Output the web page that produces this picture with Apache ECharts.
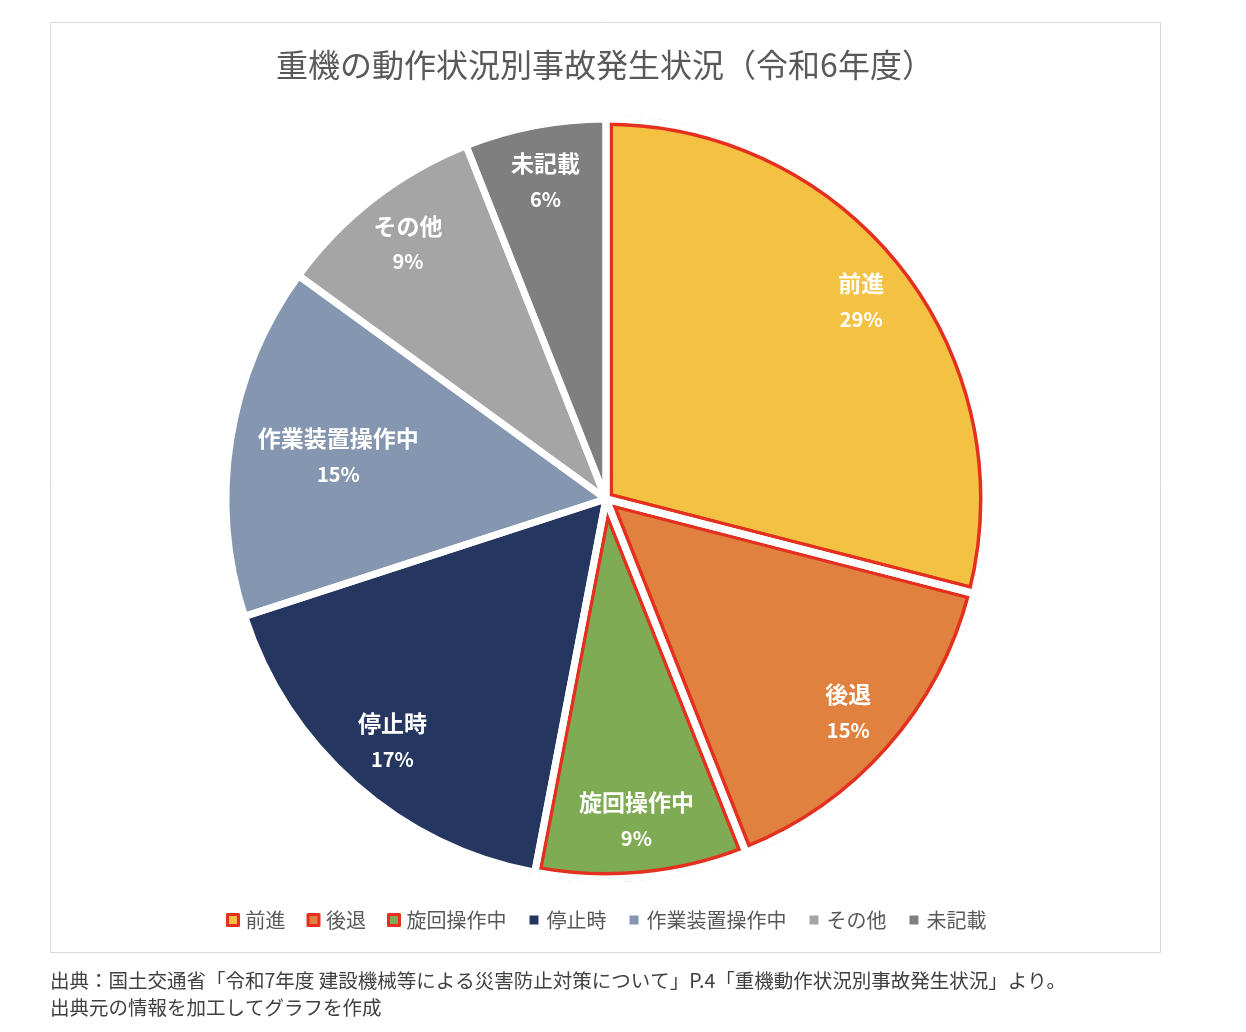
<!DOCTYPE html>
<html><head><meta charset="utf-8">
<script src="https://cdn.jsdelivr.net/npm/echarts@6/dist/echarts.min.js"></script>
<style>html,body{margin:0;padding:0;background:#fff}#c{width:1246px;height:1032px}</style>
</head><body><div id="c"></div>
<script>
// ---- data ----
const categories = ['前進', '後退', '旋回操作中', '停止時', '作業装置操作中', 'その他', '未記載'];
const values = [29, 15, 9, 17, 15, 9, 6];
const highlighted = ['前進', '後退', '旋回操作中'];
const colors = ['#F4C243', '#E0813F', '#7FAB55', '#253660', '#8597B0', '#A5A5A5', '#7F7F7F'];
const titleText = '重機の動作状況別事故発生状況（令和6年度）';
const sourceLines = [
  '出典：国土交通省「令和7年度 建設機械等による災害防止対策について」P.4「重機動作状況別事故発生状況」より。',
  '出典元の情報を加工してグラフを作成'
];

// ---- style ----
const RED = '#E3301F';
const FONT = '"Noto Sans CJK JP", "Noto Sans", sans-serif';
const CENTER = [606, 499];
const R = 380;
const GAP = 7;
const REDW = 3.5;
const TRANSPARENT = 'rgba(0,0,0,0)';
const isHl = n => highlighted.indexOf(n) >= 0;

const baseSeries = {
  type: 'pie', center: CENTER, radius: [0, R], startAngle: 90, clockwise: true,
  silent: true, label: { show: false }, labelLine: { show: false },
  emphasis: { disabled: true }, animation: false
};

const hlSeries = Object.assign({}, baseSeries, {
  name: 'hl', z: 1,
  data: categories.map((n, i) => ({
    name: n, value: values[i],
    itemStyle: isHl(n)
      ? { color: colors[i], borderColor: RED, borderWidth: 2 * (GAP / 2 + REDW), borderJoin: 'round' }
      : { color: TRANSPARENT, borderWidth: 0 }
  }))
});

const mainSeries = Object.assign({}, baseSeries, {
  name: 'main', z: 2,
  data: categories.map((n, i) => ({
    name: n, value: values[i],
    itemStyle: isHl(n) ? { color: TRANSPARENT, borderWidth: 0 } : { color: colors[i], borderWidth: 0 }
  }))
});

const gapSeries = Object.assign({}, baseSeries, {
  name: 'gap', z: 3,
  data: categories.map((n, i) => ({
    name: n, value: values[i],
    itemStyle: { color: TRANSPARENT, borderColor: '#fff', borderWidth: GAP, borderJoin: 'round' }
  }))
});

const ringSeries = Object.assign({}, baseSeries, {
  name: 'ring', z: 3, radius: [R + GAP / 2 - 0.5, R + 20],
  data: [{ name: '_ring', value: 1, itemStyle: { color: '#fff', borderWidth: 0 } }]
});

const labelStyle = {
  show: true, position: 'inside', formatter: '{n|{b}}\n{p|{d}%}',
  rich: {
    n: { color: '#fff', fontSize: 23, fontWeight: 'bold', fontFamily: FONT, lineHeight: 36 },
    p: { color: '#fff', fontSize: 20, fontWeight: 'bold', fontFamily: FONT, lineHeight: 36 }
  }
};

function labelSeries(name, radius, filter) {
  return Object.assign({}, baseSeries, {
    name: name, z: 4, radius: [0, radius],
    label: labelStyle,
    data: categories.map((n, i) => ({
      name: n, value: values[i],
      itemStyle: { color: TRANSPARENT, borderWidth: 0 },
      label: { show: filter(n) }
    }))
  });
}

const option = {
  animation: false,
  backgroundColor: '#fff',
  legend: {
    left: 221, top: 905, icon: 'rect', itemWidth: 11, itemHeight: 11, itemGap: 21,
    selectedMode: false,
    textStyle: { fontSize: 20, color: '#595959', fontFamily: FONT, padding: [0, 0, 0, 2] },
    data: categories.map((n, i) => ({
      name: n,
      itemStyle: isHl(n)
        ? { color: colors[i], borderColor: RED, borderWidth: 3 }
        : { color: colors[i], borderColor: '#fff', borderWidth: 2 }
    }))
  },
  series: [
    hlSeries, mainSeries, gapSeries, ringSeries,
    labelSeries('labelsA', 640, n => n !== '作業装置操作中'),
    labelSeries('labelsB', 536, n => n === '作業装置操作中')
  ],
  graphic: [
    { type: 'rect', silent: true, z: -1, shape: { x: 50.5, y: 22.5, width: 1110, height: 930 },
      style: { fill: 'none', stroke: '#D9D9D9', lineWidth: 1 } },
    { type: 'text', silent: true, x: 605, y: 65,
      style: { text: titleText, fill: '#595959', fontSize: 32, fontFamily: FONT,
               align: 'center', verticalAlign: 'middle', textAlign: 'center', textVerticalAlign: 'middle' } },
    { type: 'text', silent: true, x: 50, y: 981,
      style: { text: sourceLines[0], fill: '#404040', fontSize: 19.5, fontFamily: FONT,
               align: 'left', verticalAlign: 'middle', textVerticalAlign: 'middle' } },
    { type: 'text', silent: true, x: 50, y: 1008,
      style: { text: sourceLines[1], fill: '#404040', fontSize: 19.5, fontFamily: FONT,
               align: 'left', verticalAlign: 'middle', textVerticalAlign: 'middle' } }
  ]
};

const chart = echarts.init(document.getElementById('c'), null, { renderer: 'canvas' });
chart.setOption(option);
</script>
</body></html>
